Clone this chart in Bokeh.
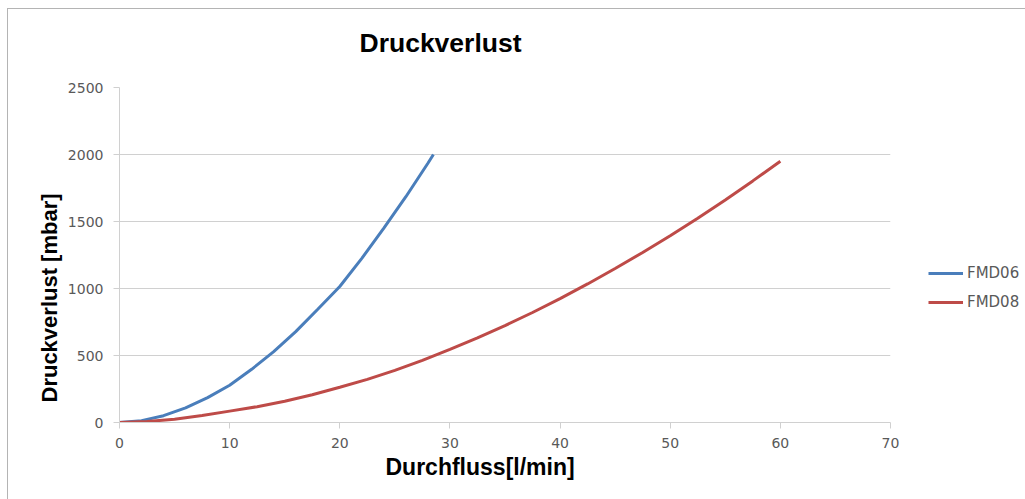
from bokeh.plotting import figure
from bokeh.models import Range1d, FixedTicker, Legend, LegendItem, Title
from bokeh.embed import file_html
from bokeh.resources import INLINE

# ---- data ----
fmd06_flow = [0, 2, 4, 6, 8, 10, 12, 14, 16, 18, 20, 22, 24, 26, 28, 28.5]
fmd06_loss = [0, 14, 51, 109, 186, 278, 397, 529, 678, 845, 1015, 1225, 1450, 1685, 1935, 2000]

fmd08_flow = [0, 2.5, 5, 7.5, 10, 12.5, 15, 17.5, 20, 22.5, 25, 27.5, 30,
              32.5, 35, 37.5, 40, 42.5, 45, 47.5, 50, 52.5, 55, 57.5, 60]
fmd08_loss = [0, 8, 25, 52, 85, 118, 158, 207, 263, 322, 389, 464, 545,
              631, 723, 821, 925, 1034, 1149, 1269, 1394, 1525, 1661, 1803, 1950]

x_ticks = [0, 10, 20, 30, 40, 50, 60, 70]
y_ticks = [0, 500, 1000, 1500, 2000, 2500]

series_names = ["FMD06", "FMD08"]
title_text = "Druckverlust"
x_title = "Durchfluss[l/min]"
y_title = "Druckverlust [mbar]"

BLUE = "#4a7ebb"
RED = "#be4b48"
GRID = "#d0d0d0"
TICK_TXT = "#595959"
FRAME = "#b4b4b4"

p = figure(
    frame_width=771, frame_height=335,
    min_border_left=119, min_border_right=135,
    min_border_top=87, min_border_bottom=77,
    x_range=Range1d(0, 70), y_range=Range1d(0, 2500),
    output_backend="svg", toolbar_location=None,
)
# chart-area frame lines (left and top) painted behind a transparent border area
p.styles = {
    "background": (f"linear-gradient({FRAME},{FRAME}) 7px 8px / 1px 100% no-repeat, "
                   f"linear-gradient({FRAME},{FRAME}) 7px 8px / 100% 1px no-repeat, white"),
}
p.outline_line_color = None
p.background_fill_color = "white"
p.border_fill_alpha = 0

# grid
p.xgrid.grid_line_color = None
p.ygrid.grid_line_color = GRID
p.ygrid.grid_line_width = 1

# axes
p.xaxis.ticker = FixedTicker(ticks=x_ticks)
p.yaxis.ticker = FixedTicker(ticks=y_ticks)
for ax in (p.xaxis, p.yaxis):
    ax.axis_line_color = GRID
    ax.major_tick_line_color = GRID
    ax.minor_tick_line_color = None
    ax.major_tick_in = 0
    ax.major_tick_out = 6
    ax.major_label_text_font = "DejaVu Sans"
    ax.major_label_text_font_size = "14px"
    ax.major_label_text_color = TICK_TXT
p.xaxis.major_label_standoff = 9
p.yaxis.major_label_standoff = 10

# lines
r1 = p.line(fmd06_flow, fmd06_loss, line_color=BLUE, line_width=3)
r2 = p.line(fmd08_flow, fmd08_loss, line_color=RED, line_width=3)

legend = Legend(
    items=[LegendItem(label=series_names[0], renderers=[r1]),
           LegendItem(label=series_names[1], renderers=[r2])],
    location=(38, 110),
    orientation="vertical",
    padding=0, margin=0, spacing=9,
    glyph_width=35, glyph_height=20, label_height=20,
    label_standoff=4,
    label_text_font="DejaVu Sans", label_text_font_size="15px",
    label_text_color=TICK_TXT,
    border_line_color=None, background_fill_alpha=0,
)
p.add_layout(legend, "right")

# titles
p.add_layout(Title(text=title_text, align="left", offset=240,
                   vertical_align="top", standoff=55,
                   text_font="Liberation Sans", text_font_style="bold",
                   text_font_size="26.5px", text_color="black"), "above")
p.add_layout(Title(text=x_title, align="left", offset=266,
                   vertical_align="top", standoff=6,
                   text_font="Liberation Sans", text_font_style="bold",
                   text_font_size="23px", text_color="black"), "below")
p.add_layout(Title(text=y_title, align="left", offset=20,
                   vertical_align="bottom", standoff=5,
                   text_font="Liberation Sans", text_font_style="bold",
                   text_font_size="22px", text_color="black"), "left")

open("out.html", "w").write(file_html(p, INLINE))
